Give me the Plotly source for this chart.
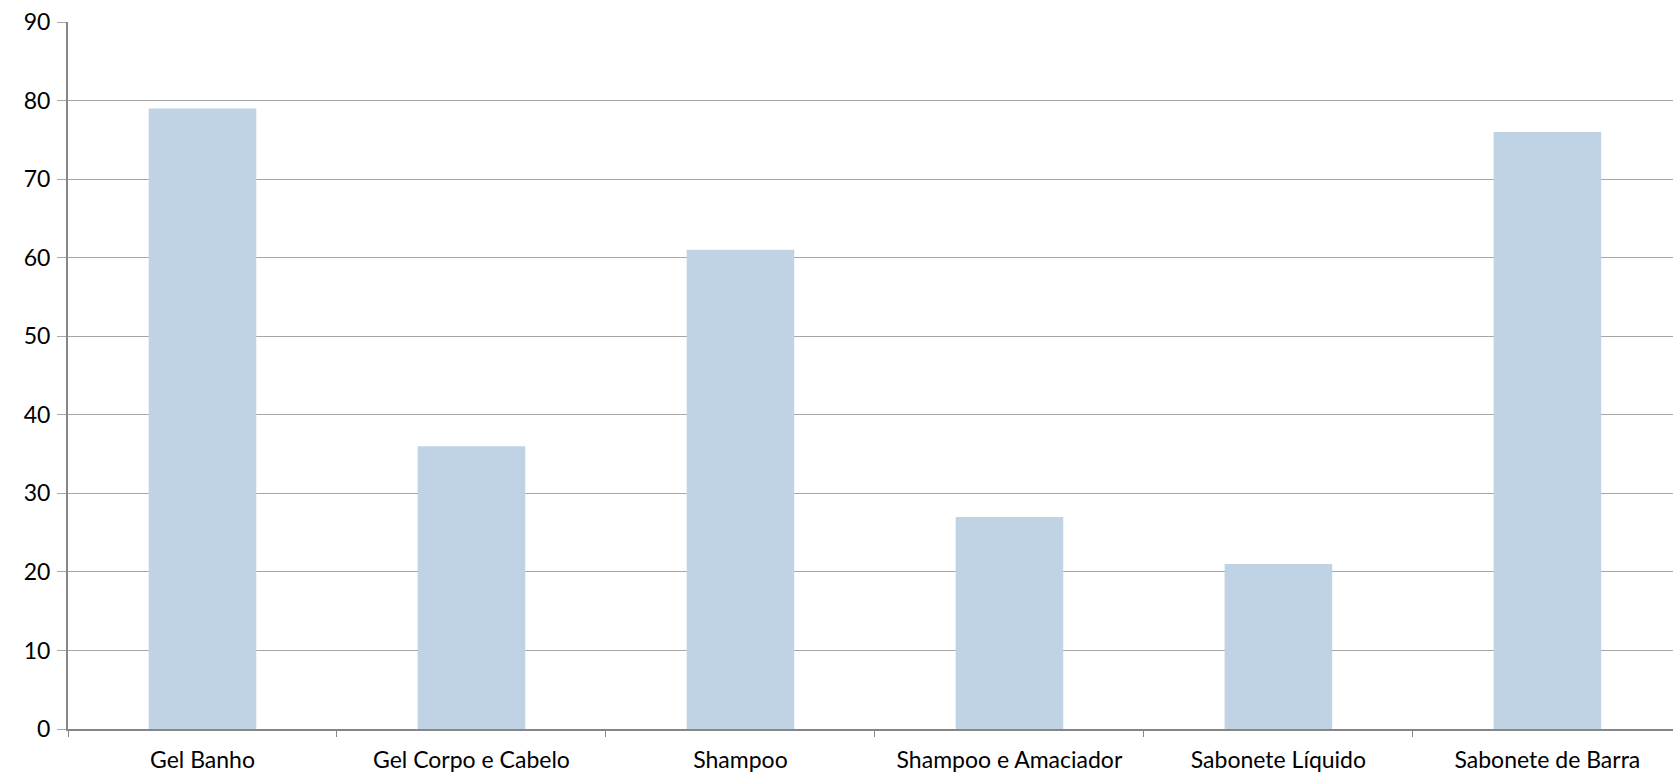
import plotly.graph_objects as go

categories = ["Gel Banho", "Gel Corpo e Cabelo", "Shampoo", "Shampoo e Amaciador", "Sabonete Líquido", "Sabonete de Barra"]
values = [79, 36, 61, 27, 21, 76]
y_ticks = [0, 10, 20, 30, 40, 50, 60, 70, 80, 90]

fig = go.Figure(go.Bar(
    x=categories, y=values, width=0.4,
    marker=dict(color="#C0D3E4", line=dict(width=0)),
))

font = dict(family="Lato, Calibri, Carlito, sans-serif", size=23, color="#000000")
fig.update_layout(
    width=1673, height=776,
    margin=dict(l=68, r=0, t=22, b=47),
    paper_bgcolor="white", plot_bgcolor="white",
    font=font, showlegend=False,
    xaxis=dict(
        range=[-0.5, 5.467], tickson="boundaries", ticks="outside", ticklen=6,
        tickcolor="#868686", showline=True, linecolor="#868686", linewidth=2,
        showgrid=False, tickfont=font, fixedrange=True, ticklabelstandoff=9,
    ),
    yaxis=dict(
        range=[0, 90], tickvals=y_ticks, ticks="outside", ticklen=9,
        tickcolor="#A6A6A6", showline=True, linecolor="#868686", linewidth=2,
        gridcolor="#A6A6A6", gridwidth=1, zeroline=False, tickfont=font,
        ticklabelstandoff=2,
    ),
)

fig.write_html("out.html")
